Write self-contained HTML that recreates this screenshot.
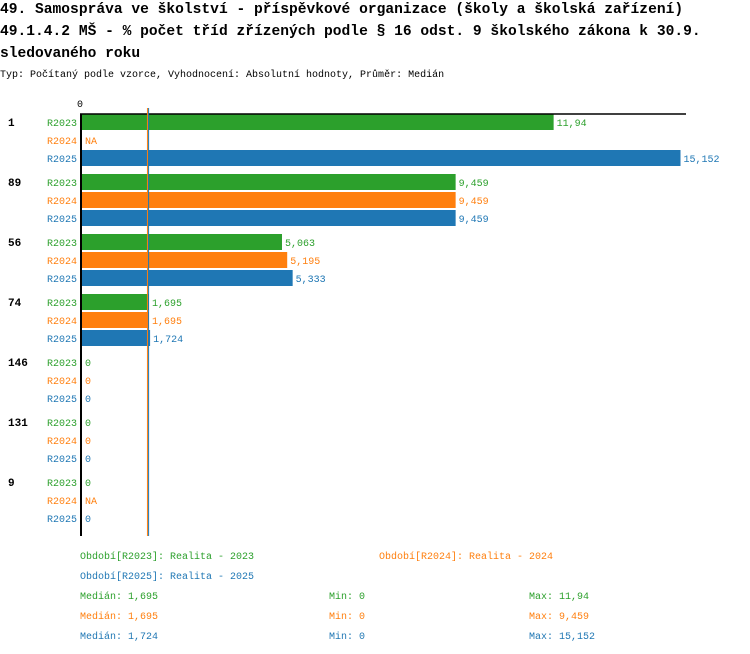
<!DOCTYPE html>
<html><head><meta charset="utf-8"><style>
body{margin:0;background:#fff;}
svg{display:block;}
.t{font-family:"Liberation Mono",monospace;font-weight:bold;font-size:14.6px;fill:#000;}
.s{font-family:"Liberation Mono",monospace;font-size:10px;fill:#000;}
.m{font-family:"Liberation Mono",monospace;font-size:10px;}
.c{font-family:"Liberation Mono",monospace;font-size:11px;font-weight:bold;}
</style></head><body>
<svg id="chart" width="750" height="654" xmlns="http://www.w3.org/2000/svg">
<text class="t" x="0" y="13">49. Samospráva ve školství - příspěvkové organizace (školy a školská zařízení)</text>
<text class="t" x="0" y="35">49.1.4.2 MŠ - % počet tříd zřízených podle § 16 odst. 9 školského zákona k 30.9.</text>
<text class="t" x="0" y="57">sledovaného roku</text>
<text class="s" x="0" y="77">Typ: Počítaný podle vzorce, Vyhodnocení: Absolutní hodnoty, Průměr: Medián</text>
</svg>
<script>
const categories = ['1','89','56','74','146','131','9'];
const seriesNames = ['R2023','R2024','R2025'];
const r2023 = [11.94, 9.459, 5.063, 1.695, 0, 0, 0];
const r2024 = [null, 9.459, 5.195, 1.695, 0, 0, null];
const r2025 = [15.152, 9.459, 5.333, 1.724, 0, 0, 0];
const medians = [1.695, 1.695, 1.724];
const mins = [0, 0, 0];
const maxs = [11.94, 9.459, 15.152];
const xTicks = [0];
const colors = ['#2ca02c','#ff7f0e','#1f77b4'];
const series = [r2023, r2024, r2025];
const svg = document.getElementById('chart');
const NS = 'http://www.w3.org/2000/svg';
const x0 = 82, scale = 39.5;
function xs(v){ return x0 + v*scale; }
function ys(ci, si){ return 114 + ci*60 + si*18; }
function fmt(v){ return String(v).replace('.', ','); }
function mk(tag, attrs, txt){
  const e = document.createElementNS(NS, tag);
  for (const k in attrs) e.setAttribute(k, attrs[k]);
  if (txt !== undefined) e.textContent = txt;
  svg.appendChild(e); return e;
}
categories.forEach((c, ci) => {
  const cl = mk('text', {class:'c', x:8, y:ys(ci,0)+12}, c);
  
  
  series.forEach((s, si) => {
    const y = ys(ci, si);
    const lab = mk('text', {class:'m', x:47, y:y+12, fill:colors[si]}, seriesNames[si]);
    
    
    const v = s[ci];
    if (v !== null && v > 0) {
      const r = mk('rect', {x:x0, y:y, width:xs(v)-x0, height:16, fill:colors[si]});
      
      
    }
    const vl = mk('text', {class:'m', x:(v===null?x0:xs(v))+3, y:y+12, fill:colors[si]}, v===null?'NA':fmt(v));
    
    
  });
});
const ax = mk('line', {x1:80, y1:114, x2:686, y2:114, stroke:'#000', 'stroke-width':1.5});


const ay = mk('line', {x1:81, y1:114, x2:81, y2:536, stroke:'#000', 'stroke-width':2});


xTicks.forEach(t => {
  const tl = mk('text', {class:'m', x:xs(t)-5, y:107, fill:'#000'}, String(t));
  
  
});
[1,2].forEach(si => {
  const xm = xs(medians[si]) - 1.5;
  const ml = mk('line', {x1:xm, y1:108, x2:xm, y2:536, stroke:colors[si], 'stroke-width':1});
  
  
});
const legPos = [[80,559],[379,559],[80,579]];
series.forEach((s, si) => {
  const l = mk('text', {class:'m', x:legPos[si][0], y:legPos[si][1], fill:colors[si]}, 'Období[' + seriesNames[si] + ']: Realita - ' + seriesNames[si].slice(1));
  
  
  const y = 599 + si*20;
  const a = mk('text', {class:'m', x:80, y:y, fill:colors[si]}, 'Medián: ' + fmt(medians[si]));
  
  
  const b = mk('text', {class:'m', x:329, y:y, fill:colors[si]}, 'Min: ' + fmt(mins[si]));
  
  
  const c = mk('text', {class:'m', x:529, y:y, fill:colors[si]}, 'Max: ' + fmt(maxs[si]));
  
  
});
</script>
</body></html>
